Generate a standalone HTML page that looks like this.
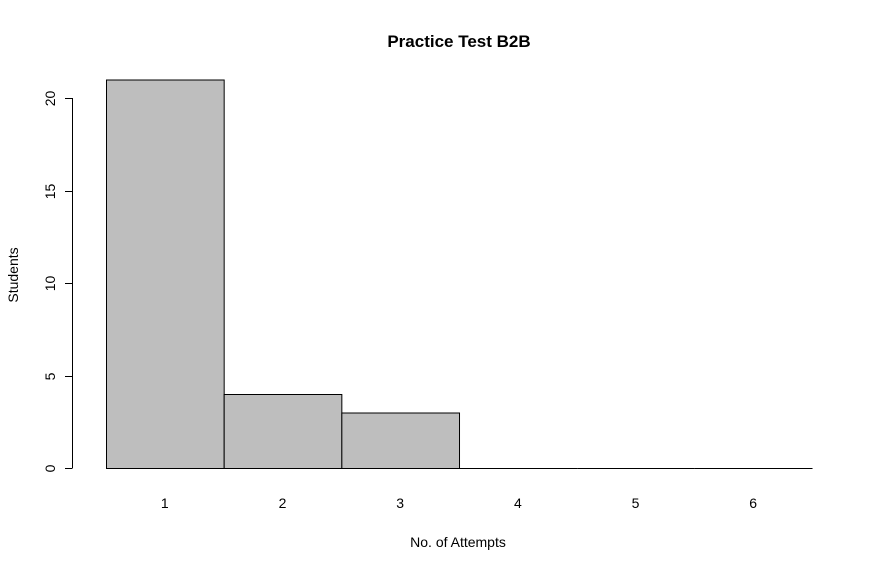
<!DOCTYPE html>
<html><head><meta charset="utf-8"><style>
html,body{margin:0;padding:0;background:#fff;}
svg{display:block;font-family:"Liberation Sans",Arial,sans-serif;}
</style></head><body>
<svg id="chart" width="881" height="571" viewBox="0 0 881 571">
<text x="459" y="47" text-anchor="middle" font-size="17" font-weight="bold">Practice Test B2B</text>
<text x="458" y="547" text-anchor="middle" font-size="14">No. of Attempts</text>
<text transform="translate(18,275) rotate(-90)" text-anchor="middle" font-size="14">Students</text>
<g id="bars"></g>
<g id="yaxis"></g>
<g id="xlabels"></g>
</svg>
<script>
const categories = ["1","2","3","4","5","6"];
const students = [21,4,3,0,0,0];
const yTicks = [0,5,10,15,20];
const NS="http://www.w3.org/2000/svg";
const x0=106, bw=117.67, y0=468, pxPerUnit=18.5;
function xPos(i){return x0+i*bw;}
function yPos(v){return y0-v*pxPerUnit;}
const bars=document.getElementById('bars');
students.forEach((v,i)=>{
  let r;
  if(v>0){
    r=document.createElementNS(NS,'rect');
    r.setAttribute('x',xPos(i)+0.5);r.setAttribute('y',yPos(v)+0.5);
    r.setAttribute('width',bw);r.setAttribute('height',v*pxPerUnit);
    r.setAttribute('fill','#bebebe');
  } else {
    r=document.createElementNS(NS,'line');
    r.setAttribute('x1',xPos(i)+0.5);r.setAttribute('x2',xPos(i)+bw+0.5);
    r.setAttribute('y1',yPos(v)+0.5);r.setAttribute('y2',yPos(v)+0.5);
  }
  r.setAttribute('stroke','#000');r.setAttribute('stroke-width','1');
  
  
  bars.appendChild(r);
  const t=document.createElementNS(NS,'text');
  t.setAttribute('x',xPos(i)+bw/2);t.setAttribute('y',508);
  t.setAttribute('text-anchor','middle');t.setAttribute('font-size','14');
  t.textContent=categories[i];
  
  
  document.getElementById('xlabels').appendChild(t);
});
const ya=document.getElementById('yaxis');
const ax=document.createElementNS(NS,'line');
ax.setAttribute('x1',72.5);ax.setAttribute('x2',72.5);
ax.setAttribute('y1',yPos(yTicks[0]));ax.setAttribute('y2',yPos(yTicks[yTicks.length-1]));
ax.setAttribute('stroke','#000');


ya.appendChild(ax);
yTicks.forEach(v=>{
  const y=Math.round(yPos(v))+0.5;
  const l=document.createElementNS(NS,'line');
  l.setAttribute('x1',65);l.setAttribute('x2',72.5);l.setAttribute('y1',y);l.setAttribute('y2',y);
  l.setAttribute('stroke','#000');
  
  
  ya.appendChild(l);
  const t=document.createElementNS(NS,'text');
  t.setAttribute('transform','translate(55,'+y+') rotate(-90)');
  t.setAttribute('text-anchor','middle');t.setAttribute('font-size','14');
  t.textContent=v;
  
  
  ya.appendChild(t);
});
</script>
</body></html>
